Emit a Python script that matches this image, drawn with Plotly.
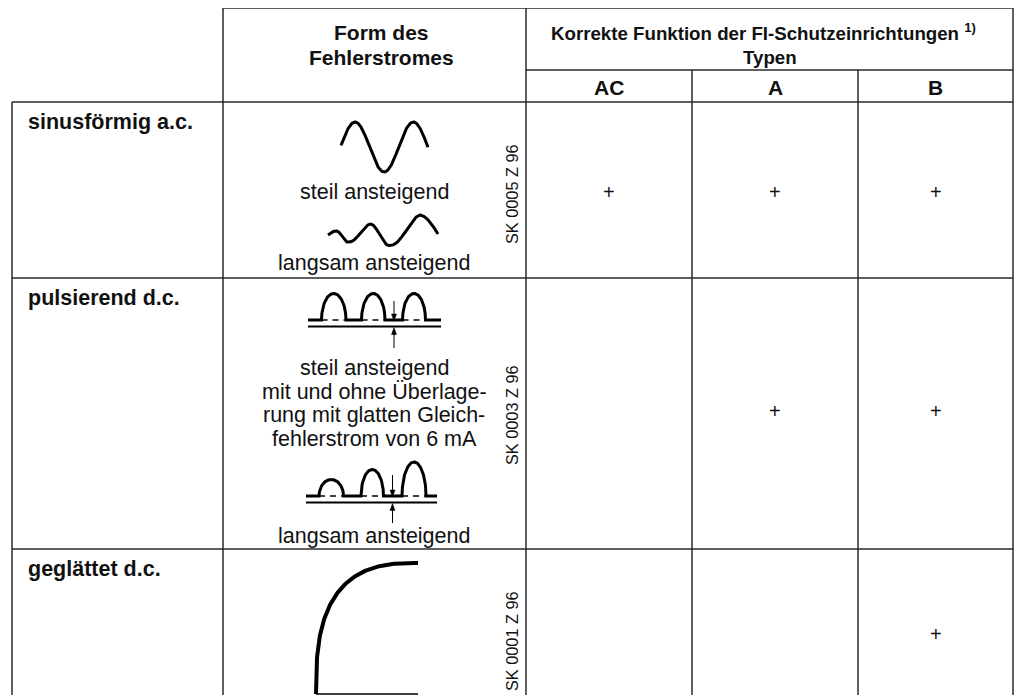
import numpy as np
import plotly.graph_objects as go

# ---------------- data ----------------
row_labels = ["sinusförmig a.c.", "pulsierend d.c.", "geglättet d.c."]
type_labels = ["AC", "A", "B"]
works = [[1, 1, 1],
         [0, 1, 1],
         [0, 0, 1]]
sk_codes = ["SK 0005 Z 96", "SK 0003 Z 96", "SK 0001 Z 96"]
header_form = ["Form des", "Fehlerstromes"]
header_func = "Korrekte Funktion der FI-Schutzeinrichtungen"
header_note = "1)"
header_typen = "Typen"
desc_sinus = ["steil ansteigend", "langsam ansteigend"]
desc_puls = ["steil ansteigend", "mit und ohne Überlage-",
             "rung mit glatten Gleich-", "fehlerstrom von 6 mA"]
desc_puls_slow = "langsam ansteigend"

# ---------------- geometry (layout only) ----------------
W, H = 1026, 695
OFF = 8  # page body margin compensation
col_x = [12, 223, 526, 692, 858, 1013]
row_y = [102, 278, 549, 695]
top_y, sub_y = 8, 70
LINE = "#2a2a2a"
INK = "#111111"
FONT = "Liberation Sans, Arial, Helvetica, sans-serif"

fig = go.Figure()


def seg(x0, y0, x1, y1, w=1.5, color=LINE, dash=None):
    fig.add_shape(type="line", x0=x0, y0=y0, x1=x1, y1=y1, xref="x", yref="y",
                  line=dict(color=color, width=w, dash=dash))


def txt(x, y, s, size=21.5, bold=False, xanchor="center", angle=0):
    fig.add_annotation(x=x, y=y, xref="x", yref="y", text=f"<b>{s}</b>" if bold else s,
                       showarrow=False, xanchor=xanchor, yanchor="middle", textangle=angle,
                       font=dict(family=FONT, size=size, color=INK))


def curve(xs, ys, w=3):
    fig.add_trace(go.Scatter(x=xs, y=ys, mode="lines", hoverinfo="skip",
                             line=dict(color="#000000", width=w, shape="linear"),
                             showlegend=False))


def arrow(x, y_from, y_tip):
    d = 1 if y_tip > y_from else -1
    seg(x, y_from, x, y_tip - d * 5, w=1, color="#000")
    fig.add_shape(type="path", xref="x", yref="y",
                  path=f"M {x - 2.5} {y_tip - d * 7} L {x + 2.5} {y_tip - d * 7} L {x} {y_tip} Z",
                  fillcolor="#000", line=dict(color="#000", width=0.5))


# grid lines
seg(col_x[1], top_y, col_x[5], top_y)
seg(col_x[2], sub_y, col_x[5], sub_y)
for ry in row_y[:3]:
    seg(col_x[0], ry, col_x[5], ry)
seg(col_x[0], row_y[0], col_x[0], H + OFF)
seg(col_x[1], top_y, col_x[1], H + OFF)
seg(col_x[2], top_y, col_x[2], H + OFF)
seg(col_x[3], sub_y, col_x[3], H + OFF)
seg(col_x[4], sub_y, col_x[4], H + OFF)
seg(col_x[5], top_y, col_x[5], H + OFF)

# headers
form_cx = 381
txt(form_cx, 32, header_form[0], size=21, bold=True)
txt(form_cx, 57, header_form[1], size=21, bold=True)
func_cx = (col_x[2] + col_x[5]) / 2 - 6
txt(func_cx, 32, f"{header_func} <sup>{header_note}</sup>", size=18.7, bold=True)
txt((col_x[2] + col_x[5]) / 2, 57, header_typen, size=18.7, bold=True)
for j, t in enumerate(type_labels):
    txt((col_x[2 + j] + col_x[3 + j]) / 2, 87, t, size=21, bold=True)

# row labels, SK codes, plus signs
sk_y = [194, 415, 641]
plus_y = [192, 411, 634]
for i, lab in enumerate(row_labels):
    txt(col_x[0] + 14, row_y[i] + 20, lab, size=21.5, bold=True, xanchor="left")
    txt(512, sk_y[i], sk_codes[i], size=16.3, angle=-90)
    for j in range(3):
        if works[i][j]:
            txt((col_x[2 + j] + col_x[3 + j]) / 2, plus_y[i], "+", size=20)

cx = 374
# ---- row 1: sinus drawings ----
x = np.linspace(341, 428, 200)
curve(x, 147 - 25 * np.cos(2 * np.pi * (x - 355) / 58.3))
txt(cx, 192, desc_sinus[0])
kx = [328, 336, 347, 370, 389, 420, 438]
kph = [-0.5 * np.pi, 0, np.pi, 2 * np.pi, 3 * np.pi, 4 * np.pi, 4.5 * np.pi]
kA = [4, 4, 6, 11, 11.5, 17, 17]
kc = [235, 235, 236, 235, 234, 232, 234]
x = np.linspace(328, 438, 300)
curve(x, np.interp(x, kx, kc) - np.interp(x, kx, kA) * np.cos(np.interp(x, kx, kph)))
txt(cx, 263, desc_sinus[1])


# ---- row 2: pulse trains ----
def pulse_train(x0, x1, base, low, pulses, arrow_x, up_from, low_from):
    xs, ys = [x0], [base]
    for (a, b, h) in pulses:
        t = np.linspace(-1, 1, 60)
        xs += [a] + list((a + b) / 2 + t * (b - a) / 2)
        ys += [base] + list(base - h * np.sqrt(np.clip(1 - t ** 2, 0, 1)))
        seg(a, base, b, base, w=1.5, color="#000", dash="6px,5px")
    xs += [x1]
    ys += [base]
    curve(xs, ys, w=3)
    seg(x0, low, x1, low, w=2, color="#000")
    arrow(arrow_x, up_from, base + 1)
    arrow(arrow_x, low_from, low + 1)


pulse_train(308, 441, 320, 326.5,
            [(321.5, 346, 26.5), (361.5, 385, 26.5), (402.5, 425.5, 26.5)],
            394, 301, 348)
for k, line in enumerate(desc_puls):
    txt(cx, 368 + 23.5 * k, line)
pulse_train(306, 437, 496, 502.5,
            [(319, 343.5, 16.5), (361, 383.5, 26.5), (402, 426, 34)],
            392.5, 475, 523)
txt(cx, 536, desc_puls_slow)

# ---- row 3: smoothed d.c. ----
th = np.linspace(0, np.pi / 2, 200)
n = 2.8
curve(418 - 102 * np.cos(th) ** (2 / n), 694 - 131 * np.sin(th) ** (2 / n), w=4)
seg(316, 694, 418, 694, w=1.5, color="#000")

fig.update_layout(
    width=W, height=H, margin=dict(l=0, r=0, t=0, b=0),
    paper_bgcolor="white", plot_bgcolor="white", showlegend=False,
    xaxis=dict(range=[OFF, W + OFF], visible=False, fixedrange=True),
    yaxis=dict(range=[H + OFF, OFF], visible=False, fixedrange=True),
)
fig.write_html("out.html", config={"displayModeBar": False})
